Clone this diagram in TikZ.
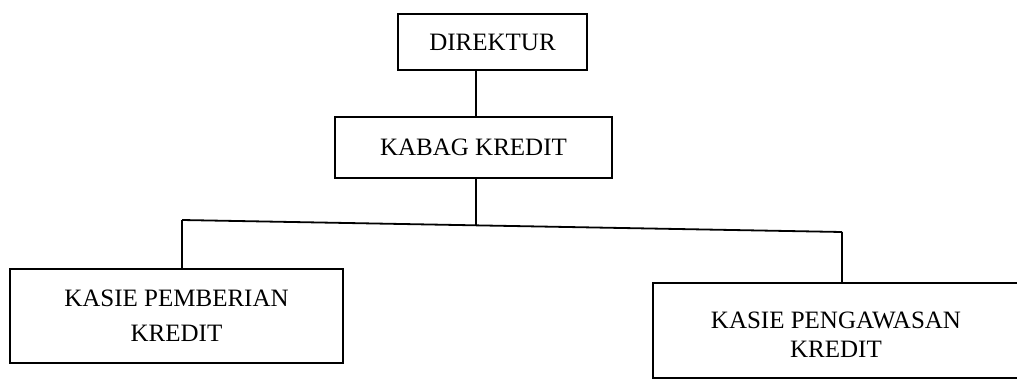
\documentclass[tikz,border=0pt]{standalone}
\usepackage{fontspec}
\setmainfont{Liberation Serif}
\begin{document}
\begin{tikzpicture}[x=1pt,y=-1pt,
  box/.style={draw, line width=1.8pt, inner sep=0pt, align=center,
    font=\fontsize{25}{41}\selectfont},
  link/.style={line width=1.8pt}]
\useasboundingbox (0,0) rectangle (1017,385);
\node[box, minimum width=189pt, minimum height=56pt] (dir) at (492.5,42) {DIREKTUR};
\node[box, minimum width=277pt, minimum height=61pt] (kabag) at (473.5,147.5) {KABAG KREDIT};
\node[box, minimum width=333pt, minimum height=94pt] (pemb) at (176.5,316) {KASIE PEMBERIAN\\[-6pt]KREDIT};
\node[box, minimum width=366pt, minimum height=95pt,
  font=\fontsize{25}{33}\selectfont] (peng) at (836,330.5) {\rule{0pt}{26pt}KASIE PENGAWASAN\\[-4pt]KREDIT};
\coordinate (j) at (476,225.5);
\coordinate (bl) at (182,220);
\coordinate (br) at (842,232);
\draw[link] (dir.south -| j) -- (kabag.north -| j);
\draw[link] (kabag.south -| j) -- (j);
\draw[link] (bl) -- (br);
\draw[link] (bl) -- (pemb.north -| bl);
\draw[link] (br) -- (peng.north -| br);
\end{tikzpicture}
\end{document}
